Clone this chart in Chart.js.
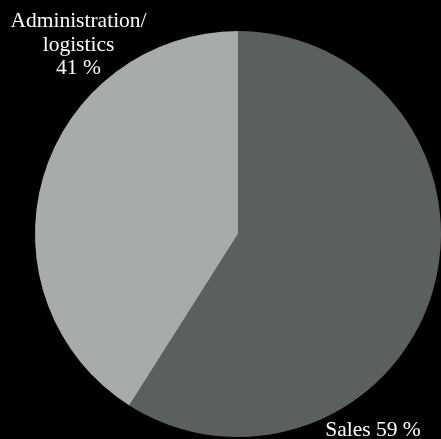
<!DOCTYPE html>
<html>
<head>
<meta charset="utf-8">
<script src="https://cdn.jsdelivr.net/npm/chart.js@4/dist/chart.umd.min.js"></script>
<style>
  html, body { margin: 0; padding: 0; background: #000; }
  #wrap { width: 441px; height: 439px; position: relative; }
</style>
</head>
<body>
<div id="wrap"><canvas id="pieChart" width="441" height="439"></canvas></div>
<script>
const categories = ['Sales', 'Administration/logistics'];
const shares = [59, 41];
const sliceColors = ['#5a5f5f', '#a7abab'];

// text labels drawn on top of the pie
const labelPlugin = {
    id: 'sliceLabels',
    afterDraw(chart) {
        const ctx = chart.ctx;
        ctx.save();
        ctx.fillStyle = '#ffffff';
        ctx.font = '21.5px "Liberation Serif", "Times New Roman", serif';
        ctx.textAlign = 'center';
        ctx.textBaseline = 'alphabetic';
        ctx.fillText('Administration/', 78.5, 27);
        ctx.fillText('logistics', 78.5, 50.5);
        ctx.fillText(shares[1] + ' %', 78.5, 74);
        ctx.fillText(categories[0] + ' ' + shares[0] + ' %', 373, 436);
        ctx.restore();
    }
};

new Chart(document.getElementById('pieChart'), {
    type: 'pie',
    data: {
        labels: categories,
        datasets: [{
            data: shares,
            backgroundColor: sliceColors,
            borderWidth: 0
        }]
    },
    options: {
        responsive: false,
        animation: false,
        layout: { padding: { left: 35, right: 0, top: 31, bottom: 2 } },
        plugins: {
            legend: { display: false },
            tooltip: { enabled: false }
        }
    },
    plugins: [labelPlugin]
});
</script>
</body>
</html>
